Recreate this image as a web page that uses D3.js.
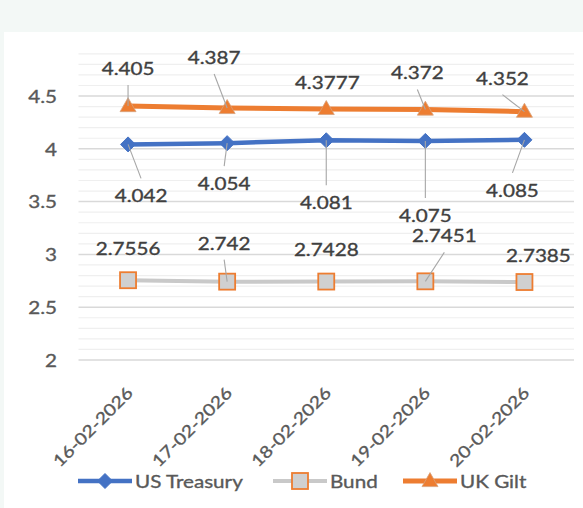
<!DOCTYPE html>
<html>
<head>
<meta charset="utf-8">
<script src="https://cdn.jsdelivr.net/npm/d3@7/dist/d3.min.js"></script>
<style>
  html, body { margin: 0; padding: 0; background: #f3f8f6; }
  svg { display: block; }
</style>
</head>
<body>
<svg id="chart" width="583" height="508"></svg>
<script>
// ---- data ----
const categories = ["16-02-2026", "17-02-2026", "18-02-2026", "19-02-2026", "20-02-2026"];
const usTreasury = [4.042, 4.054, 4.081, 4.075, 4.085];
const bund = [2.7556, 2.742, 2.7428, 2.7451, 2.7385];
const ukGilt = [4.405, 4.387, 4.3777, 4.372, 4.352];
const seriesNames = ["US Treasury", "Bund", "UK Gilt"];
const yTickValues = [2, 2.5, 3, 3.5, 4, 4.5];
const yTickLabels = ["2", "2.5", "3", "3.5", "4", "4.5"];

// ---- label layout (offsets from marker, px) ----
const usLabelOffsets = [[13, 51], [-3, 40], [0, 62], [0, 74], [-12, 50]];
const bundLabelOffsets = [[0, -32], [-3, -39], [0, -32], [19, -46], [14, -27]];
const giltLabelOffsets = [[0, -38], [-13, -51], [1, -27], [-8, -37], [-22, -34]];

// ---- setup ----
const FONT = "Lato, 'Open Sans', sans-serif";
const SX = 1.18;
const svg = d3.select("#chart");
svg.append("rect").attr("x", 4).attr("y", 32).attr("width", 579).attr("height", 476).attr("fill", "#ffffff");

const x = d3.scaleBand().domain(categories).range([78.5, 574]).padding(0);
const cx = c => x(c) + x.bandwidth() / 2;
const y = d3.scaleLinear().domain([2, 4.9]).range([360, 53.8]);

function txt(g, px, py, s, o) {
  o = o || {};
  const fill = o.fill || "#404040";
  return g.append("text")
    .attr("transform", `translate(${px},${py})` + (o.rotate ? ` rotate(${o.rotate})` : "") + ` scale(${SX},1)`)
    .attr("text-anchor", o.anchor || "middle")
    .attr("dominant-baseline", o.baseline || "central")
    .attr("font-family", FONT)
    .attr("font-size", o.size || 17.5)
    .attr("fill", fill)
    .attr("stroke", fill).attr("stroke-width", 0.35)
    .text(s);
}

// ---- gridlines ----
const minor = d3.range(20, 50, 1).map(v => v / 10).filter(v => Math.abs(v * 2 - Math.round(v * 2)) > 1e-6);
const gGrid = svg.append("g");
gGrid.selectAll("line.minor").data(minor).join("line")
  .attr("x1", 78.5).attr("x2", 574)
  .attr("y1", d => y(d)).attr("y2", d => y(d))
  .attr("stroke", "#efefef").attr("stroke-width", 1.2);
gGrid.selectAll("line.major").data(yTickValues).join("line")
  .attr("x1", 78.5).attr("x2", 574)
  .attr("y1", d => y(d)).attr("y2", d => y(d))
  .attr("stroke", "#d9d9d9").attr("stroke-width", 1.5);

// ---- y axis labels ----
const gY = svg.append("g");
yTickValues.forEach((v, i) => txt(gY, 57, y(v), yTickLabels[i], { anchor: "end", fill: "#595959" }));

// ---- x axis labels ----
const gX = svg.append("g");
categories.forEach(c => txt(gX, cx(c) + 6, 394, c, { anchor: "end", rotate: -45, baseline: "auto", fill: "#595959", size: 16.5 }));

// ---- series ----
const BLUE = "#4472C4", ORANGE = "#ED7D31", GRAY = "#c9c9c9";
const line = d3.line().x((d, i) => cx(categories[i])).y(d => y(d));

function diamond(g, px, py) {
  const r = 7.5;
  g.append("path").attr("d", `M${px},${py - r}L${px + r},${py}L${px},${py + r}L${px - r},${py}Z`)
    .attr("fill", BLUE).attr("stroke", BLUE).attr("stroke-width", 1);
}
function square(g, px, py) {
  const s = 16;
  g.append("rect").attr("x", px - s / 2).attr("y", py - s / 2).attr("width", s).attr("height", s)
    .attr("fill", "#d0d0d0").attr("stroke", ORANGE).attr("stroke-width", 1.8);
}
function triangle(g, px, py) {
  const w = 16, h = 14;
  g.append("path").attr("d", `M${px},${py - h * 0.6}L${px + w / 2},${py + h * 0.4}L${px - w / 2},${py + h * 0.4}Z`)
    .attr("fill", ORANGE).attr("stroke", "#d7a27c").attr("stroke-width", 0.8);
}

const gLines = svg.append("g");
gLines.append("path").datum(bund).attr("d", line).attr("fill", "none").attr("stroke", GRAY).attr("stroke-width", 4);
gLines.append("path").datum(usTreasury).attr("d", line).attr("fill", "none").attr("stroke", BLUE).attr("stroke-width", 4.5);
gLines.append("path").datum(ukGilt).attr("d", line).attr("fill", "none").attr("stroke", ORANGE).attr("stroke-width", 5);

const gMarks = svg.append("g");
usTreasury.forEach((v, i) => diamond(gMarks, cx(categories[i]), y(v)));
bund.forEach((v, i) => square(gMarks, cx(categories[i]), y(v)));
ukGilt.forEach((v, i) => triangle(gMarks, cx(categories[i]), y(v)));

// ---- data labels with leader lines ----
const gLab = svg.append("g");
function labels(values, offsets) {
  values.forEach((v, i) => {
    const mx = cx(categories[i]), my = y(v);
    const lx = mx + offsets[i][0], ly = my + offsets[i][1];
    const above = offsets[i][1] < 0;
    const ex = lx, ey = ly + (above ? 17 : -17);
    const dist = Math.hypot(offsets[i][0], offsets[i][1]) - 9;
    if (dist > 26) {
      gLab.append("line").attr("x1", mx).attr("y1", my).attr("x2", ex).attr("y2", ey)
        .attr("stroke", "#a6a6a6").attr("stroke-width", 1.1);
    }
    txt(gLab, lx, ly, String(v), { fill: "#404040" });
  });
}
labels(usTreasury, usLabelOffsets);
labels(bund, bundLabelOffsets);
labels(ukGilt, giltLabelOffsets);

// ---- legend ----
const gLeg = svg.append("g");
const legY = 481;
const legendItems = [
  { name: seriesNames[0], x0: 78, color: BLUE, mark: diamond, w: 4.5 },
  { name: seriesNames[1], x0: 273, color: GRAY, mark: square, w: 4 },
  { name: seriesNames[2], x0: 403, color: ORANGE, mark: triangle, w: 5 }
];
legendItems.forEach(it => {
  gLeg.append("line").attr("x1", it.x0).attr("x2", it.x0 + 54).attr("y1", legY).attr("y2", legY)
    .attr("stroke", it.color).attr("stroke-width", it.w);
  it.mark(gLeg, it.x0 + 27, legY);
  txt(gLeg, it.x0 + 57, legY, it.name, { anchor: "start", fill: "#595959" });
});
</script>
</body>
</html>
